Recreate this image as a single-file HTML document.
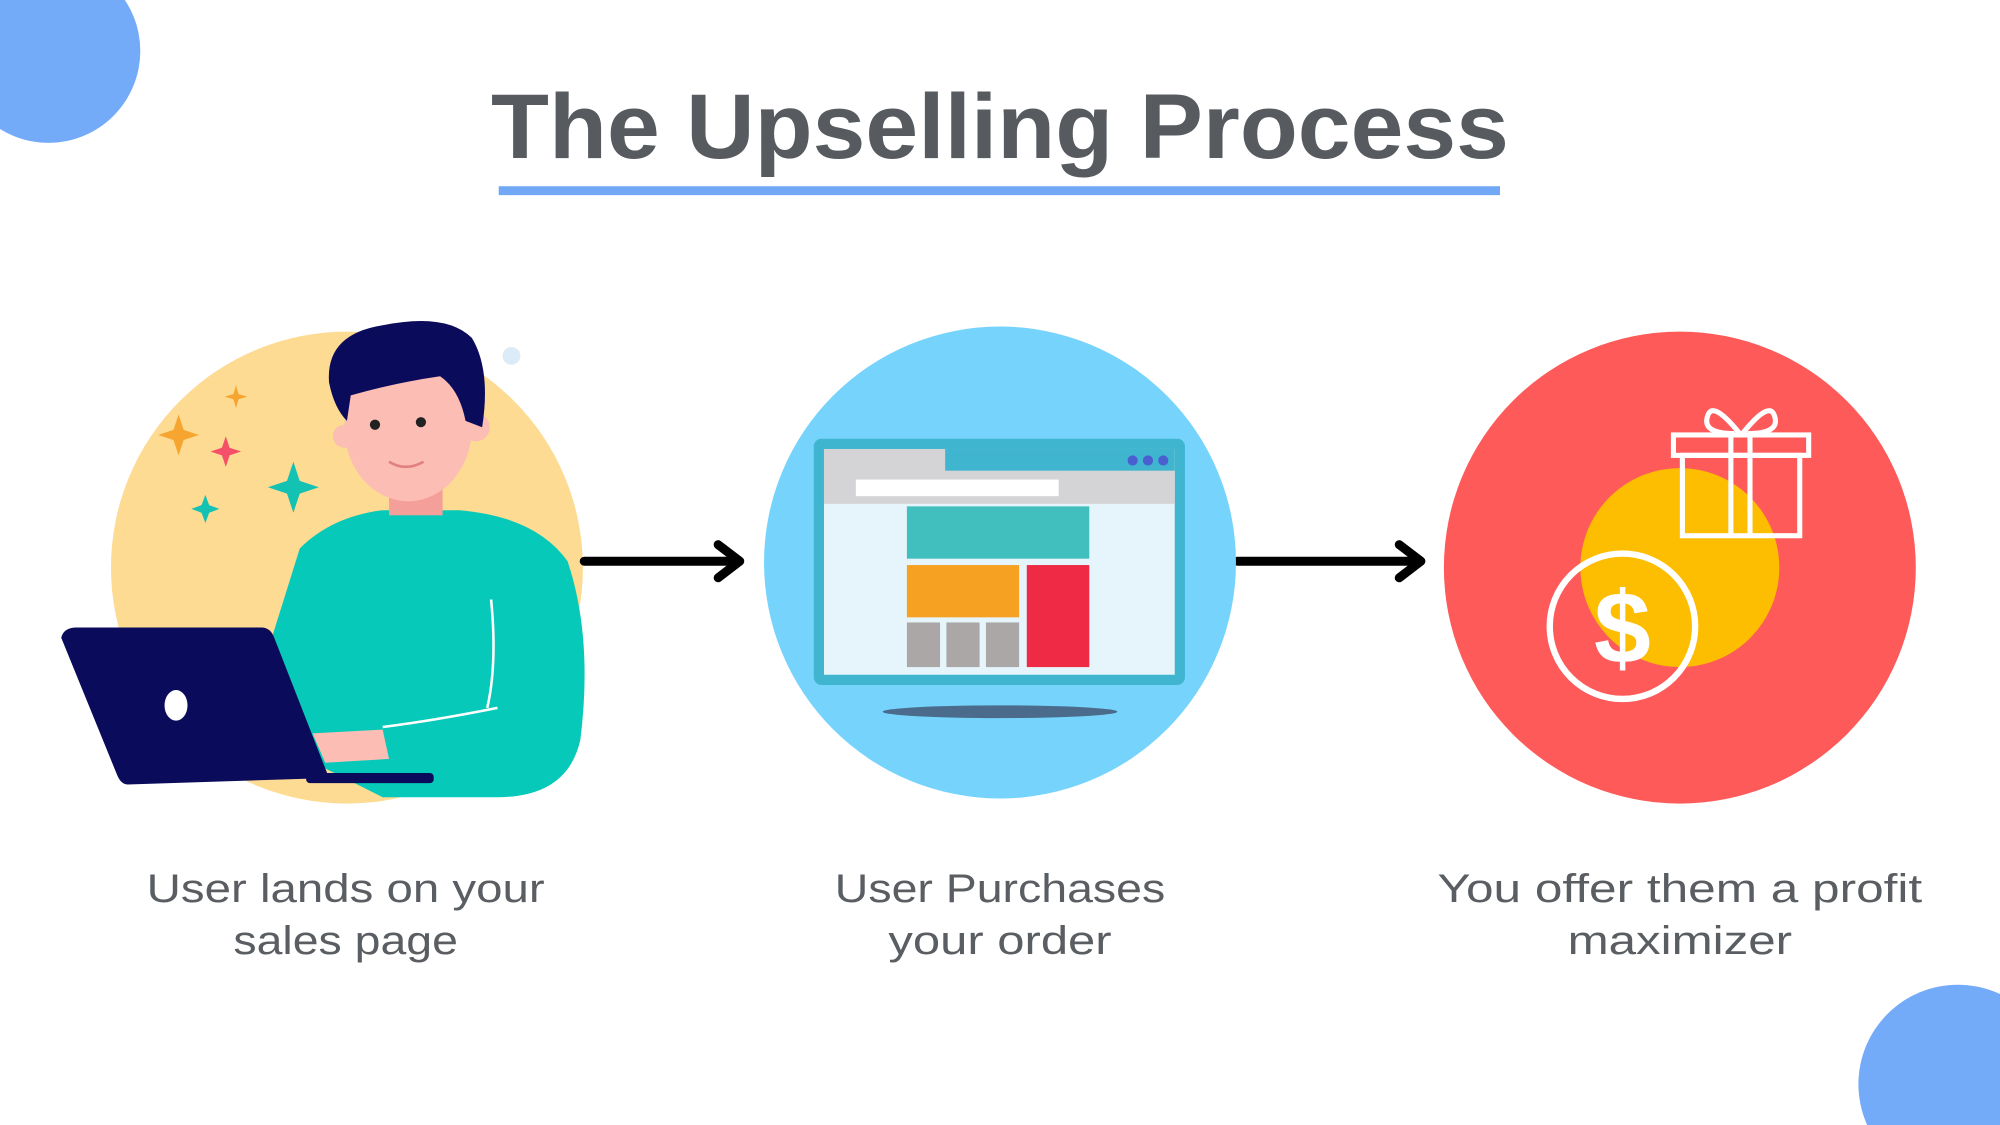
<!DOCTYPE html>
<html><head><meta charset="utf-8"><style>
html,body{margin:0;padding:0;background:#fff;width:2000px;height:1125px;overflow:hidden;position:relative;}
svg{display:block;position:absolute;left:0;top:0;}
</style></head><body>
<svg width="2000" height="1125" viewBox="0 0 1568 882" xmlns="http://www.w3.org/2000/svg">
<rect width="1568" height="882" fill="#fff"/>
<circle cx="38" cy="40" r="72" fill="#74abf8"/>
<circle cx="1535" cy="850" r="78" fill="#74abf8"/>
<text x="784" y="124" text-anchor="middle" font-family="Liberation Sans, sans-serif" font-size="72" font-weight="bold" fill="#575b5f" textLength="798" lengthAdjust="spacingAndGlyphs">The Upselling Process</text>
<rect x="391" y="146" width="785" height="7" fill="#70a8f5"/>

<circle cx="272" cy="445" r="185" fill="#fddb92"/>
<g fill="#f7a531"><path d="M140 325 l4 12 12 4 -12 4 -4 12 -4 -12 -12 -4 12 -4z"/><path d="M185 302 l2 7 7 2 -7 2 -2 7 -2 -7 -7 -2 7 -2z"/></g>
<path d="M177 342 l3 9 9 3 -9 3 -3 9 -3 -9 -9 -3 9 -3z" fill="#f5506a"/>
<g fill="#14c2b4"><path d="M230 362 l5 15 15 5 -15 5 -5 15 -5 -15 -15 -5 15 -5z"/><path d="M161 388 l3 8 8 3 -8 3 -3 8 -3 -8 -8 -3 8 -3z"/></g>
<circle cx="401" cy="279" r="7" fill="#dcebf8"/>
<path d="M235 430 Q260 405 300 400 L360 400 Q420 405 445 440 Q465 500 455 580 Q445 625 390 625 L300 625 L250 600 L210 510 Z" fill="#07c9b9"/>
<path d="M300 570 Q340 565 390 555" stroke="#fff" stroke-width="2" fill="none"/>
<path d="M385 470 Q390 520 382 555" stroke="#fff" stroke-width="2" fill="none"/>
<rect x="305" y="370" width="42" height="34" fill="#f59f9a"/>
<ellipse cx="320" cy="335" rx="50" ry="58" fill="#fbbdb4"/>
<circle cx="270" cy="342" r="9" fill="#fbbdb4"/><circle cx="373" cy="335" r="11" fill="#fbbdb4"/>
<path d="M258 300 Q255 262 300 255 Q350 245 370 265 Q385 290 378 335 L365 330 Q360 305 345 295 Q310 300 275 310 L272 330 Q262 320 258 300Z" fill="#0b0b5c"/>
<circle cx="294" cy="333" r="4" fill="#222"/><circle cx="330" cy="331" r="4" fill="#222"/>
<path d="M305 362 Q318 370 332 362" stroke="#e08080" stroke-width="2" fill="none"/>
<path d="M245 575 L300 572 L305 595 L255 598Z" fill="#fbbdb4"/>
<path d="M48 500 Q50 492 60 492 L205 492 Q212 492 215 500 L258 610 L100 615 Q95 615 92 608Z" fill="#0b0b5c"/>
<rect x="240" y="606" width="100" height="8" rx="3" fill="#0b0b5c"/>
<ellipse cx="138" cy="553" rx="9" ry="12" fill="#fff"/>

<g stroke="#000" stroke-width="7" fill="none" stroke-linecap="round" stroke-linejoin="round">
<line x1="458" y1="440" x2="578" y2="440"/><polyline points="563,427 580,440 563,453"/>
<line x1="970" y1="440" x2="1112" y2="440"/><polyline points="1097,427 1114,440 1097,453"/>
</g>

<circle cx="784" cy="441" r="185" fill="#76d3fc"/>
<rect x="638" y="344" width="291" height="193" rx="6" fill="#3fb5cf"/>
<rect x="646" y="352" width="275" height="177" fill="#e6f5fb"/>
<rect x="646" y="352" width="275" height="43" fill="#d4d3d6"/>
<rect x="741" y="352" width="180" height="17" fill="#3fb5cf"/>
<rect x="671" y="376" width="159" height="13" fill="#fff"/>
<g fill="#4a5fd0"><circle cx="888" cy="361" r="4"/><circle cx="900" cy="361" r="4"/><circle cx="912" cy="361" r="4"/></g>
<rect x="711" y="397" width="143" height="41" fill="#40bfbe"/>
<rect x="711" y="443" width="88" height="41" fill="#f7a123"/>
<rect x="805" y="443" width="49" height="80" fill="#ee2a45"/>
<g fill="#aca7a7"><rect x="711" y="488" width="26" height="35"/><rect x="742" y="488" width="26" height="35"/><rect x="773" y="488" width="26" height="35"/></g>
<ellipse cx="784" cy="558" rx="92" ry="5" fill="#4a6b8c"/>

<circle cx="1317" cy="445" r="185" fill="#fe5a5a"/>
<circle cx="1317" cy="445" r="78" fill="#fdbd00"/>
<circle cx="1272" cy="491" r="57" fill="none" stroke="#fff" stroke-width="5"/>
<text x="1272" y="520" text-anchor="middle" font-family="Liberation Sans, sans-serif" font-size="80" font-weight="bold" fill="#fff">$</text>
<g fill="none" stroke="#fff" stroke-width="4">
<rect x="1312" y="341" width="106" height="16"/>
<rect x="1319" y="357" width="92" height="63"/>
<line x1="1357" y1="341" x2="1357" y2="420"/><line x1="1372" y1="341" x2="1372" y2="420"/>
<path d="M1364 340 Q1340 310 1338 330 Q1338 340 1360 340"/>
<path d="M1366 340 Q1390 310 1392 330 Q1392 340 1370 340"/>
</g>

<g font-family="Liberation Sans, sans-serif" font-size="31" fill="#5a5e62" text-anchor="middle">
<text x="271" y="707" textLength="312" lengthAdjust="spacingAndGlyphs">User lands on your</text><text x="271" y="748" textLength="176" lengthAdjust="spacingAndGlyphs">sales page</text>
<text x="784" y="707" textLength="259" lengthAdjust="spacingAndGlyphs">User Purchases</text><text x="784" y="748" textLength="175" lengthAdjust="spacingAndGlyphs">your order</text>
<text x="1317" y="707" textLength="380" lengthAdjust="spacingAndGlyphs">You offer them a profit</text><text x="1317" y="748" textLength="176" lengthAdjust="spacingAndGlyphs">maximizer</text>
</g>
</svg>
</body></html>
